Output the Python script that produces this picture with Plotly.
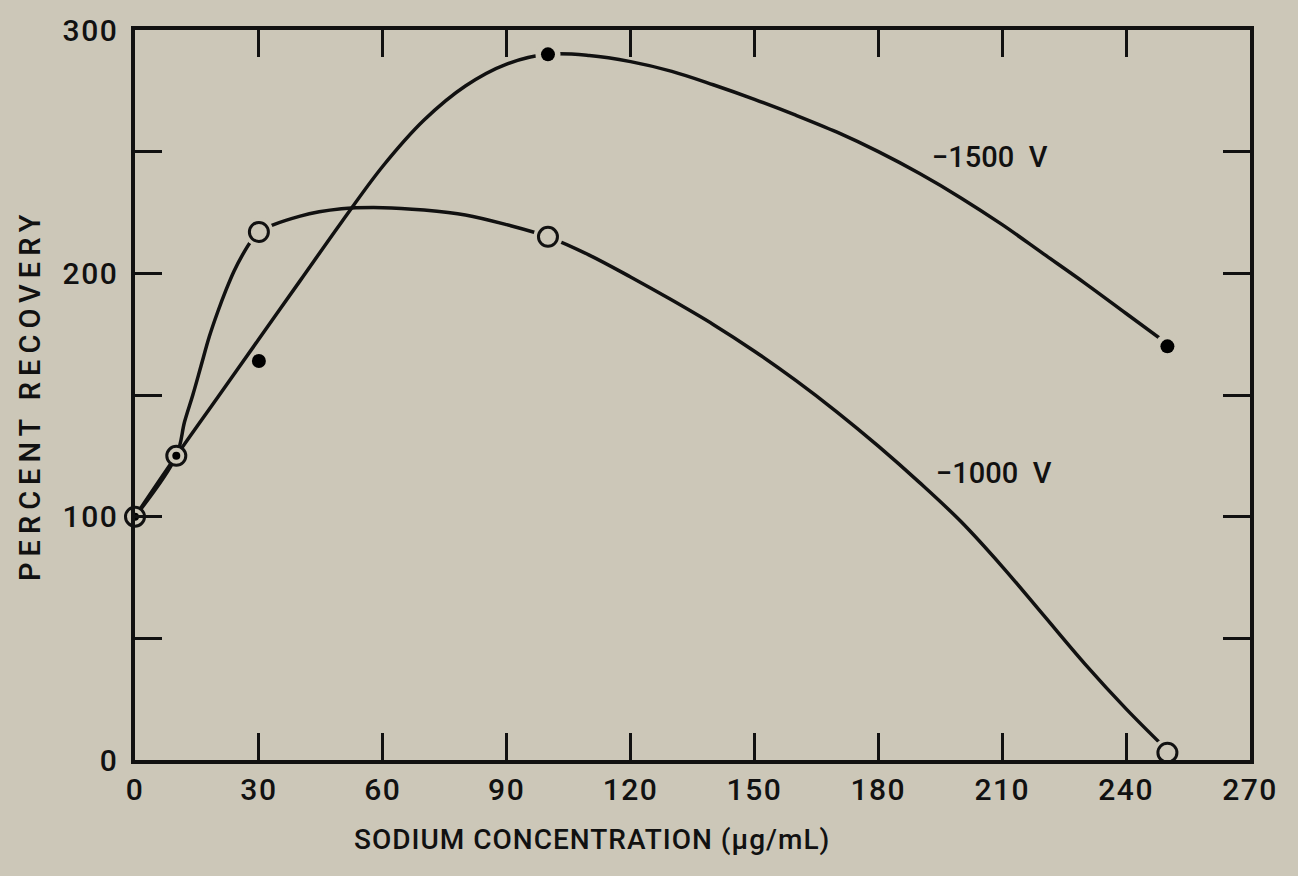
import plotly.graph_objects as go

# ---- data ----
na_conc = [0, 10, 30, 100, 250]                 # sodium concentration (ug/mL)
rec_1500 = [100, 125, 164, 290, 170]            # percent recovery, -1500 V (filled dots)
rec_1000 = [100, 125, 217, 215, 3]              # percent recovery, -1000 V (open circles)

# hand-drawn smooth curves
curve_1500_x = [0, 10, 20, 30, 40, 50, 60, 70, 80, 90, 100, 110, 120, 130, 140, 150, 160,
                170, 180, 190, 200, 210, 220, 230, 240, 250]
curve_1500_y = [100, 125, 149, 173, 197, 221, 244, 263, 277, 286, 290, 289.5, 287, 283, 277.5,
                271.5, 265, 258, 250, 241, 231, 220, 208, 196, 183.5, 171]

curve_1000_x = [0, 10, 12, 14, 16, 18, 20, 22, 24, 26, 28, 30, 40, 50, 60, 70, 80, 90, 100,
                110, 120, 130, 140, 150, 160, 170, 180, 190, 200, 210, 220, 230, 240, 250]
curve_1000_y = [100, 125, 139, 150, 162, 174, 184, 193, 201, 207.5, 213, 217, 223.5, 226.5, 227, 226,
                224, 220, 215, 207.5, 198.5, 189, 179, 168, 156, 143, 129, 114, 98, 79.5, 59.5, 39.5,
                21, 4]

x_ticks = [0, 30, 60, 90, 120, 150, 180, 210, 240, 270]
y_ticks = [0, 50, 100, 150, 200, 250, 300]
y_ticktext = ["0", "", "100", "", "200", "", "300"]

label_1500 = "\u22121500\u00a0\u00a0V"
label_1000 = "\u22121000\u00a0\u00a0V"
x_title = "SODIUM CONCENTRATION (\u03bcg/mL)"
y_title = "PERCENT RECOVERY"

BG = "#ccc7b8"
INK = "#111111"
FONT = "Roboto, DejaVu Sans, sans-serif"

# points where the drawn line stops short of the symbol
halo_1500_idx = [3, 4]
halo_1000_idx = [2, 3, 4]

fig = go.Figure()

fig.add_trace(go.Scatter(x=curve_1500_x, y=curve_1500_y, mode="lines",
                         line=dict(color=INK, width=3.5, shape="spline", smoothing=1.0),
                         hoverinfo="skip", showlegend=False, cliponaxis=False))
fig.add_trace(go.Scatter(x=curve_1000_x, y=curve_1000_y, mode="lines",
                         line=dict(color=INK, width=3.5, shape="spline", smoothing=1.0),
                         hoverinfo="skip", showlegend=False, cliponaxis=False))

# background-coloured discs that open small gaps in the curves around symbols
fig.add_trace(go.Scatter(x=[na_conc[i] for i in halo_1500_idx], y=[rec_1500[i] for i in halo_1500_idx],
                         mode="markers", marker=dict(symbol="circle", size=25, color=BG, line=dict(width=0)),
                         hoverinfo="skip", showlegend=False, cliponaxis=False))
fig.add_trace(go.Scatter(x=[na_conc[i] for i in halo_1000_idx], y=[rec_1000[i] for i in halo_1000_idx],
                         mode="markers", marker=dict(symbol="circle", size=29, color=BG, line=dict(width=0)),
                         hoverinfo="skip", showlegend=False, cliponaxis=False))

fig.add_trace(go.Scatter(x=na_conc, y=rec_1000, mode="markers", name="-1000 V",
                         marker=dict(symbol="circle", size=19, color=BG, line=dict(color=INK, width=3)),
                         showlegend=False, cliponaxis=False))
fig.add_trace(go.Scatter(x=na_conc, y=rec_1500, mode="markers", name="-1500 V",
                         marker=dict(symbol="circle", size=[8, 8, 14, 14, 14], color="#000000",
                                     opacity=1, line=dict(width=0)),
                         showlegend=False, cliponaxis=False))

TXT = dict(family=FONT, size=29, color=INK, weight=500)

fig.add_annotation(x=207, y=248, xref="x", yref="y", text=label_1500, showarrow=False, font=TXT)
fig.add_annotation(x=208, y=118, xref="x", yref="y", text=label_1000, showarrow=False, font=TXT)

W, H, L, R, T, B = 1298, 876, 135, 48, 23, 116
pw, ph = W - L - R, H - T - B
fig.add_annotation(x=(592 - L) / pw, y=-(840 - (H - B)) / ph, xref="paper", yref="paper",
                   text=x_title, showarrow=False, xanchor="center", yanchor="middle",
                   font=dict(family=FONT, size=28, color=INK, weight=500))
fig.add_annotation(x=(30 - L) / pw, y=0.5, xref="paper", yref="paper", text=y_title,
                   textangle=-90, showarrow=False, xanchor="center", yanchor="middle",
                   font=dict(family=FONT, size=29, color=INK, weight=500))

fig.update_layout(
    width=W, height=H,
    paper_bgcolor=BG, plot_bgcolor=BG,
    margin=dict(l=L, r=R, t=T, b=B),
    font=TXT,
)

axis_style = dict(showgrid=False, zeroline=False, showline=True, linecolor=INK, linewidth=3.5,
                  mirror="ticks", ticks="inside", ticklen=27, tickwidth=2.5, tickcolor=INK,
                  tickfont=dict(family=FONT, size=30, color=INK, weight=500))
fig.update_xaxes(range=[0, 270], tickvals=x_ticks, ticktext=[str(v) for v in x_ticks],
                 ticklabelstandoff=0, **axis_style)
fig.update_yaxes(range=[0, 300], tickvals=y_ticks, ticktext=y_ticktext,
                 ticklabelstandoff=7, **axis_style)

post = """
document.body.style.margin='0';
document.body.style.overflow='hidden';
var gd = document.getElementById('{plot_id}');
gd.querySelectorAll('.annotation-text').forEach(function(t){
  if (t.textContent === 'PERCENT RECOVERY') { t.style.letterSpacing = '6px'; }
  if (t.textContent.indexOf('SODIUM') === 0) { t.style.letterSpacing = '1px'; }
});
gd.querySelectorAll('.xtick text, .ytick text').forEach(function(t){ t.style.letterSpacing = '1.5px'; });
"""

fig.write_html("out.html", post_script=post, config={"displayModeBar": False})
